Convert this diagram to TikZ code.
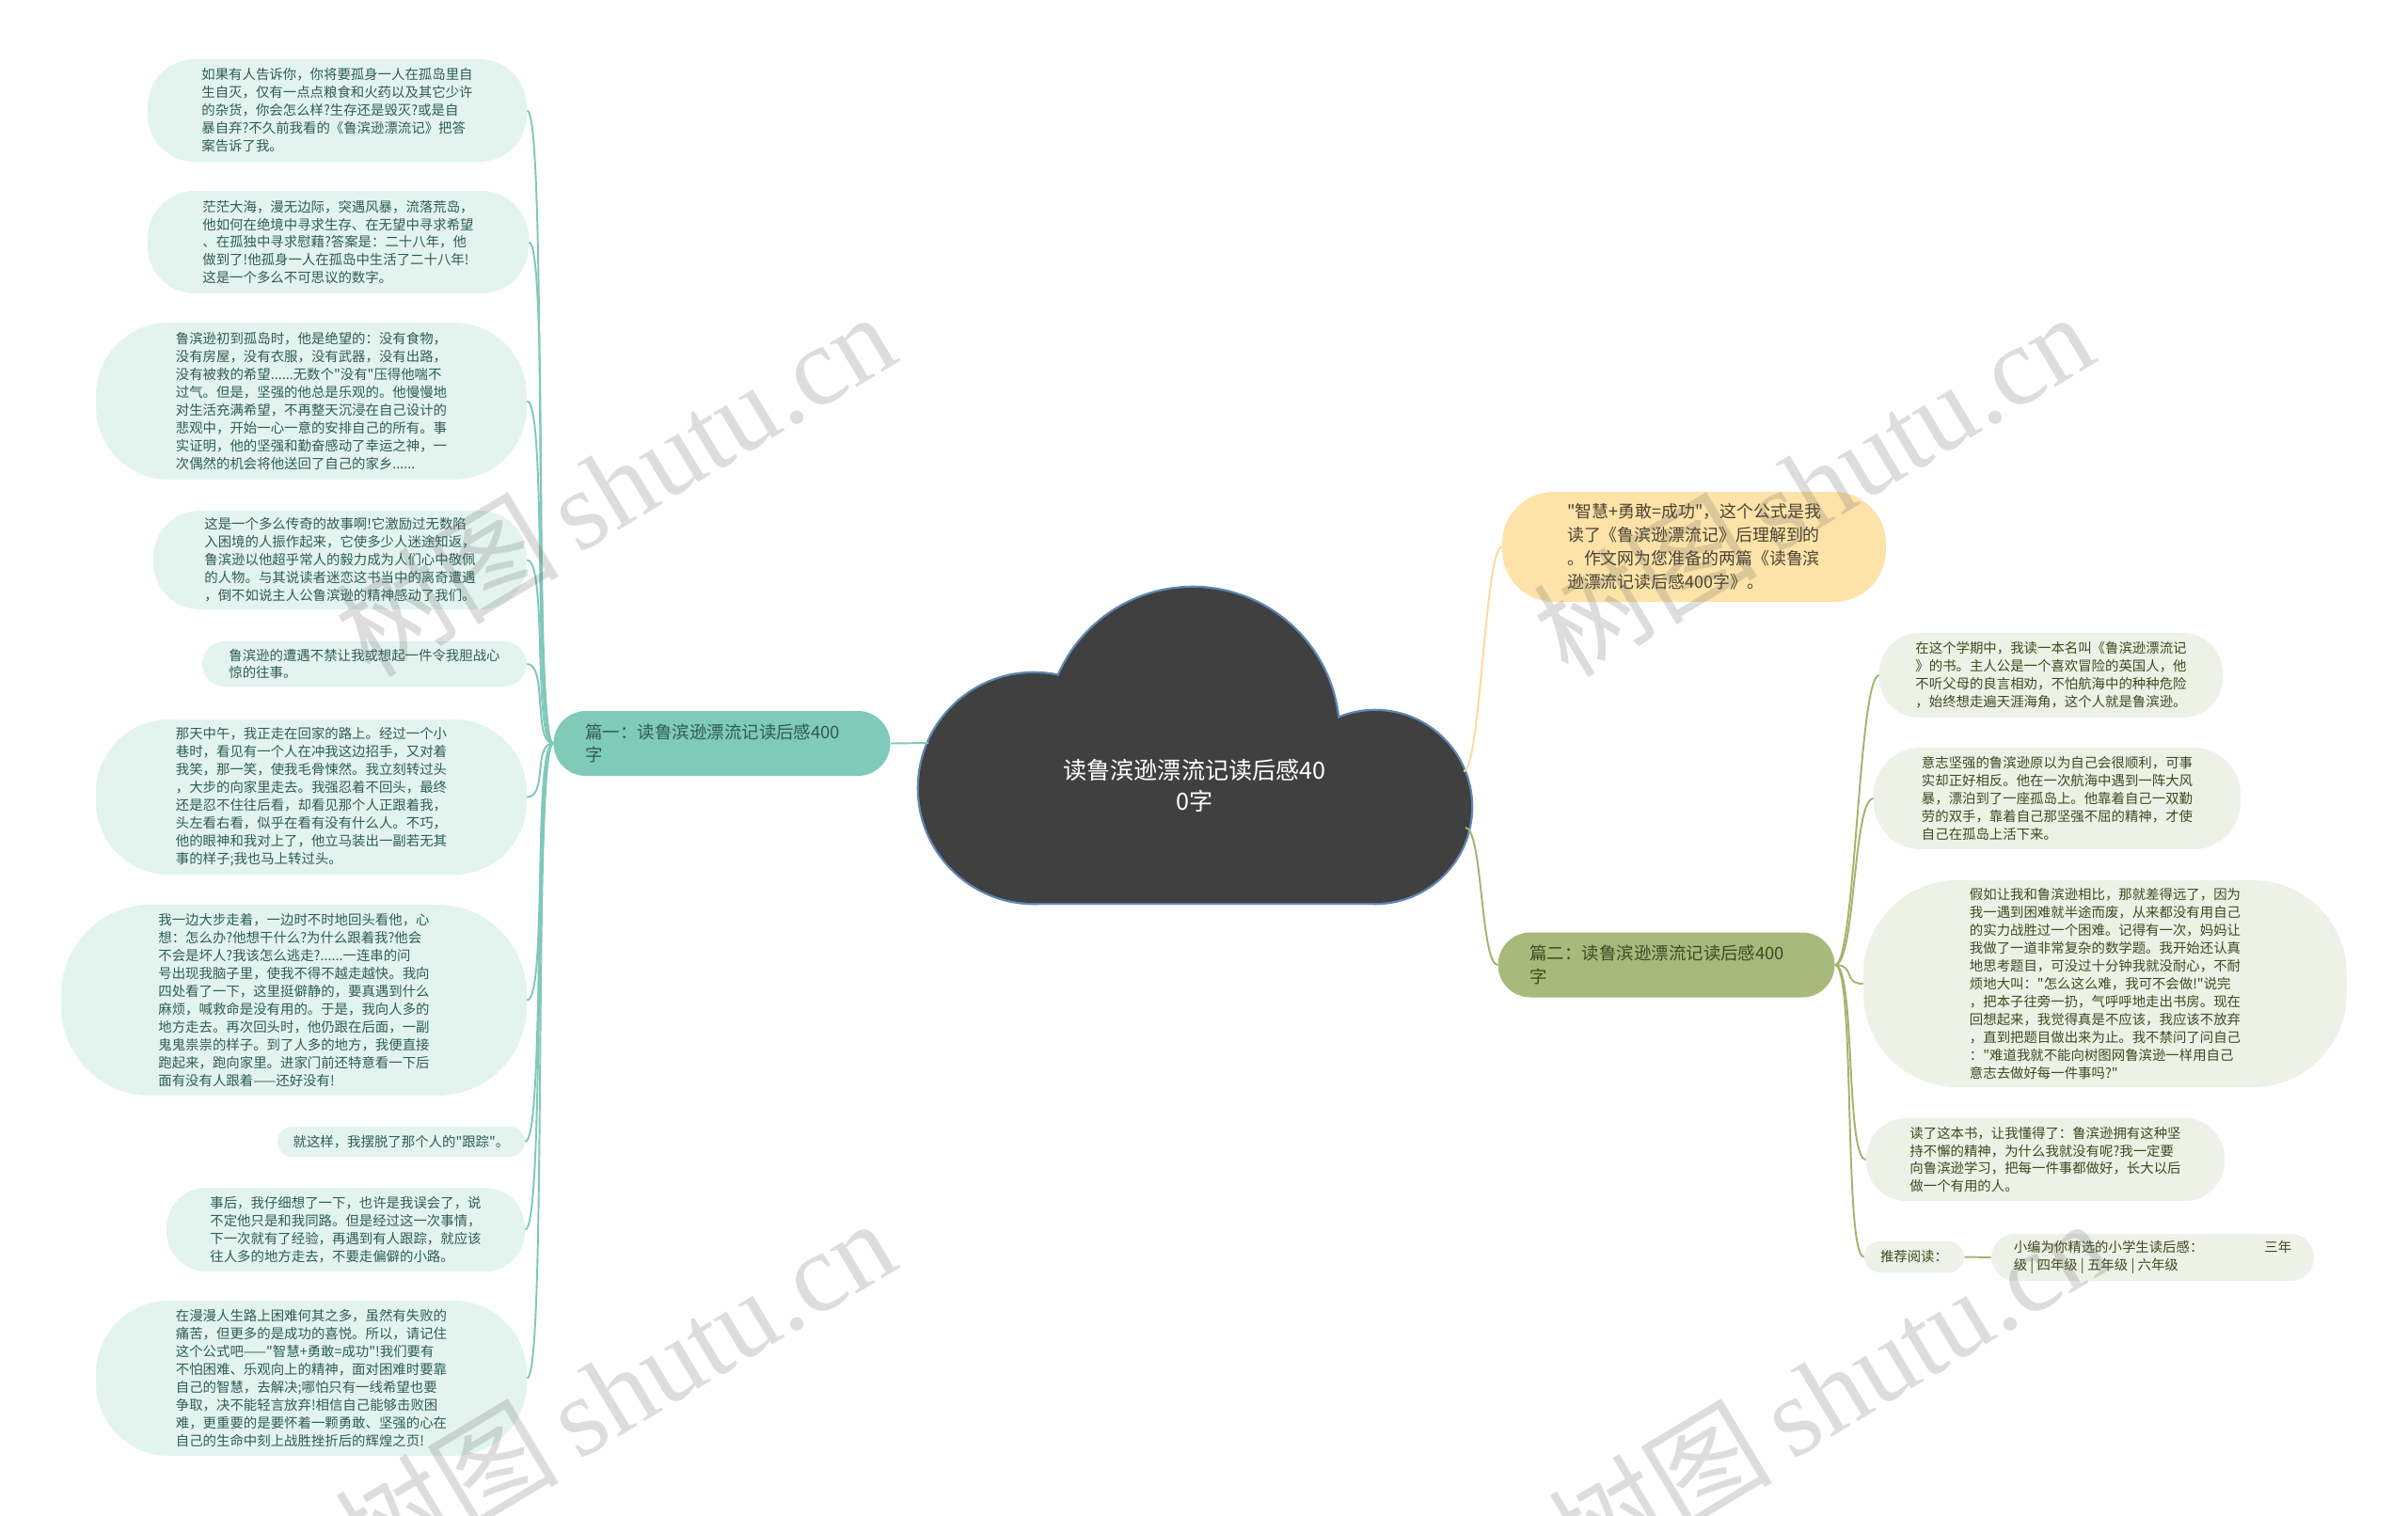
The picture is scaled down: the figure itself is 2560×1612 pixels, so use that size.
\documentclass[tikz,border=0pt]{standalone}
\usepackage{fontspec}
\setmainfont{Noto Sans CJK SC}[Ligatures=TeXOff]
\newfontfamily\wmlatin{Liberation Serif}
\usetikzlibrary{calc}
\definecolor{cCloud}{HTML}{404040}
\definecolor{cCloudEdge}{HTML}{5F86B3}
\definecolor{cLeafL}{HTML}{E3F4EF}
\definecolor{cLeafR}{HTML}{EEF1E6}
\definecolor{cBranchL}{HTML}{7FCAB9}
\definecolor{cBranchR}{HTML}{A7BA7C}
\definecolor{cIntro}{HTML}{FDE3A8}
\definecolor{cLineL}{HTML}{80C8B8}
\definecolor{cLineR}{HTML}{A3B56F}
\definecolor{cLineY}{HTML}{F7DC9C}
\definecolor{cTextL}{HTML}{2F5C54}
\definecolor{cTextR}{HTML}{3E4A22}
\definecolor{cTextY}{HTML}{4A4232}

\begin{document}
\begin{tikzpicture}[x=0.02cm,y=-0.02cm,
  leaftxt/.style={font=\fontsize{8.2}{10.8}\selectfont,align=left,inner sep=0pt},
  leafl/.style={leaftxt,fill=cLeafL,text=cTextL,rounded corners=#1},
  leafl/.default=1cm,
  leafr/.style={leaftxt,fill=cLeafR,text=cTextR,rounded corners=#1},
  leafr/.default=1cm,
  branch/.style={font=\fontsize{10.5}{14}\selectfont,align=left,text width=5.8cm,inner xsep=.68cm,inner ysep=0pt,minimum height=1.38cm,rounded corners=.69cm},
  intro/.style={font=\fontsize{10.2}{14.2}\selectfont,align=left,inner sep=0pt,fill=cIntro,text=cTextY,rounded corners=1.1cm},
  root/.style={font=\fontsize{14.3}{18.8}\selectfont,align=center,text=white,inner sep=0pt},
  linkl/.style={cLineL,line width=1.1pt},
  linkr/.style={cLineR,line width=1.1pt},
  linky/.style={cLineY,line width=1.1pt},
  cloudedge/.style={draw=cCloudEdge,line width=2.6pt},
  watermark/.style={text=black!60,text opacity=.22,rotate=31,font=\fontsize{68}{68}\selectfont,inner sep=0pt}]
\useasboundingbox (0,0) rectangle (2560,1612);
\fill[white] (0,0) rectangle (2560,1612);

% central cloud
\foreach \cx/\cy/\r in {1268/780/155,1099/838/122,1462/858/102}
  \draw[cloudedge] (\cx,\cy) circle[radius=\r];
\draw[cloudedge] (1099,838) rectangle (1462,960);
\foreach \cx/\cy/\r in {1268/780/155,1099/838/122,1462/858/102}
  \fill[cCloud] (\cx,\cy) circle[radius=\r];
\fill[cCloud] (1099,838) rectangle (1462,960);
\node[root] (root) at (1270,835) {读鲁滨逊漂流记读后感40\\0字};
\coordinate (cl) at (987,790);
\coordinate (cy) at (1556,820);
\coordinate (cg) at (1558,880);

% branches
\node[branch,fill=cBranchL,text=cTextL] (b1) at (767.5,790.5) {篇一：读鲁滨逊漂流记读后感400\\字};
\node[branch,fill=cBranchR,text=cTextR] (b2) at (1771.5,1026) {篇二：读鲁滨逊漂流记读后感400\\字};
\node[intro,minimum width=8.16cm,minimum height=2.34cm] (intro) at (1801,581.5)
  {"智慧+勇敢=成功"，这个公式是我\\读了《鲁滨逊漂流记》后理解到的\\。作文网为您准备的两篇《读鲁滨\\逊漂流记读后感400字》。};

% left leaves
\node[leafl=1cm,minimum width=8.06cm,minimum height=2.18cm] (l1) at (358.5,117.5)
  {如果有人告诉你，你将要孤身一人在孤岛里自\\生自灭，仅有一点点粮食和火药以及其它少许\\的杂货，你会怎么样?生存还是毁灭?或是自\\暴自弃?不久前我看的《鲁滨逊漂流记》把答\\案告诉了我。};
\node[leafl=1cm,minimum width=8.10cm,minimum height=2.18cm] (l2) at (359.5,257.5)
  {茫茫大海，漫无边际，突遇风暴，流落荒岛，\\他如何在绝境中寻求生存、在无望中寻求希望\\、在孤独中寻求慰藉?答案是：二十八年，他\\做到了!他孤身一人在孤岛中生活了二十八年!\\这是一个多么不可思议的数字。};
\node[leafl=1.55cm,minimum width=9.16cm,minimum height=3.34cm] (l3) at (331,426.5)
  {鲁滨逊初到孤岛时，他是绝望的：没有食物，\\没有房屋，没有衣服，没有武器，没有出路，\\没有被救的希望......无数个"没有"压得他喘不\\过气。但是，坚强的他总是乐观的。他慢慢地\\对生活充满希望，不再整天沉浸在自己设计的\\悲观中，开始一心一意的安排自己的所有。事\\实证明，他的坚强和勤奋感动了幸运之神，一\\次偶然的机会将他送回了自己的家乡......};
\node[leafl=1cm,minimum width=7.94cm,minimum height=2.10cm] (l4) at (361.5,595.5)
  {这是一个多么传奇的故事啊!它激励过无数陷\\入困境的人振作起来，它使多少人迷途知返，\\鲁滨逊以他超乎常人的毅力成为人们心中敬佩\\的人物。与其说读者迷恋这书当中的离奇遭遇\\，倒不如说主人公鲁滨逊的精神感动了我们。};
\node[leafl=.48cm,minimum width=6.90cm,minimum height=.96cm] (l5) at (387.5,706)
  {鲁滨逊的遭遇不禁让我或想起一件令我胆战心\\惊的往事。};
\node[leafl=1.55cm,minimum width=9.16cm,minimum height=3.30cm] (l6) at (331,847.5)
  {那天中午，我正走在回家的路上。经过一个小\\巷时，看见有一个人在冲我这边招手，又对着\\我笑，那一笑，使我毛骨悚然。我立刻转过头\\，大步的向家里走去。我强忍着不回头，最终\\还是忍不住往后看，却看见那个人正跟着我，\\头左看右看，似乎在看有没有什么人。不巧，\\他的眼神和我对上了，他立马装出一副若无其\\事的样子;我也马上转过头。};
\node[leafl=1.9cm,minimum width=9.90cm,minimum height=4.06cm] (l7) at (312.5,1063.5)
  {我一边大步走着，一边时不时地回头看他，心\\想：怎么办?他想干什么?为什么跟着我?他会\\不会是坏人?我该怎么逃走?......一连串的问\\号出现我脑子里，使我不得不越走越快。我向\\四处看了一下，这里挺僻静的，要真遇到什么\\麻烦，喊救命是没有用的。于是，我向人多的\\地方走去。再次回头时，他仍跟在后面，一副\\鬼鬼祟祟的样子。到了人多的地方，我便直接\\跑起来，跑向家里。进家门前还特意看一下后\\面有没有人跟着——还好没有!};
\node[leafl=.32cm,minimum width=5.26cm,minimum height=.64cm] (l8) at (426.5,1214)
  {就这样，我摆脱了那个人的"跟踪"。};
\node[leafl=.85cm,minimum width=7.62cm,minimum height=1.78cm] (l9) at (367.5,1307.5)
  {事后，我仔细想了一下，也许是我误会了，说\\不定他只是和我同路。但是经过这一次事情，\\下一次就有了经验，再遇到有人跟踪，就应该\\往人多的地方走去，不要走偏僻的小路。};
\node[leafl=1.55cm,minimum width=9.16cm,minimum height=3.30cm] (l10) at (331,1465.5)
  {在漫漫人生路上困难何其之多，虽然有失败的\\痛苦，但更多的是成功的喜悦。所以，请记住\\这个公式吧——"智慧+勇敢=成功"!我们要有\\不怕困难、乐观向上的精神，面对困难时要靠\\自己的智慧，去解决;哪怕只有一线希望也要\\争取，决不能轻言放弃!相信自己能够击败困\\难，更重要的是要怀着一颗勇敢、坚强的心在\\自己的生命中刻上战胜挫折后的辉煌之页!};

% right leaves
\node[leafr=.85cm,minimum width=7.30cm,minimum height=1.80cm] (r1) at (2180.5,718)
  {在这个学期中，我读一本名叫《鲁滨逊漂流记\\》的书。主人公是一个喜欢冒险的英国人，他\\不听父母的良言相劝，不怕航海中的种种危险\\，始终想走遍天涯海角，这个人就是鲁滨逊。};
\node[leafr=1cm,minimum width=7.80cm,minimum height=2.16cm] (r2) at (2187,849)
  {意志坚强的鲁滨逊原以为自己会很顺利，可事\\实却正好相反。他在一次航海中遇到一阵大风\\暴，漂泊到了一座孤岛上。他靠着自己一双勤\\劳的双手，靠着自己那坚强不屈的精神，才使\\自己在孤岛上活下来。};
\node[leafr=2cm,minimum width=10.28cm,minimum height=4.40cm] (r3) at (2238,1046)
  {假如让我和鲁滨逊相比，那就差得远了，因为\\我一遇到困难就半途而废，从来都没有用自己\\的实力战胜过一个困难。记得有一次，妈妈让\\我做了一道非常复杂的数学题。我开始还认真\\地思考题目，可没过十分钟我就没耐心，不耐\\烦地大叫："怎么这么难，我可不会做!"说完\\，把本子往旁一扔，气呼呼地走出书房。现在\\回想起来，我觉得真是不应该，我应该不放弃\\，直到把题目做出来为止。我不禁问了问自己\\："难道我就不能向树图网鲁滨逊一样用自己\\意志去做好每一件事吗?"};
\node[leafr=.85cm,minimum width=7.62cm,minimum height=1.76cm] (r4) at (2174.5,1233)
  {读了这本书，让我懂得了：鲁滨逊拥有这种坚\\持不懈的精神，为什么我就没有呢?我一定要\\向鲁滨逊学习，把每一件事都做好，长大以后\\做一个有用的人。};
\node[leafr=.33cm,minimum width=2.12cm,minimum height=.66cm] (rec) at (2035,1336.5) {推荐阅读：};
\node[leafr=.5cm,minimum width=6.86cm,minimum height=1.00cm] (xb) at (2288.5,1337)
  {小编为你精选的小学生读后感：\hspace{1.3cm}三年\\级 | 四年级 | 五年级 | 六年级};

% connectors
\draw[linkl] (b1.east) -- (cl);
\draw[linky] (cy) .. controls +(18,0) and +(-18,0) .. (intro.west);
\draw[linkr] (cg) .. controls +(18,0) and +(-18,0) .. (b2.west);
\foreach \n in {l1,l2,l3,l4,l5,l6,l7,l8,l9,l10}
  \draw[linkl] (b1.west) .. controls +(-22,0) and +(22,0) .. (\n.east);
\foreach \n in {r1,r2,r3,r4,rec}
  \draw[linkr] (b2.east) .. controls +(22,0) and +(-22,0) .. (\n.west);
\draw[linkr] (rec.east) -- (xb.west);

% watermarks
\node[watermark] (wm1) at (653,514) {树图\,{\wmlatin shutu.cn}};
\node[watermark] (wm2) at (1927,514) {树图\,{\wmlatin shutu.cn}};
\node[watermark] (wm3) at (653,1478) {树图\,{\wmlatin shutu.cn}};
\node[watermark] (wm4) at (1943,1478) {树图\,{\wmlatin shutu.cn}};
\end{tikzpicture}
\end{document}
